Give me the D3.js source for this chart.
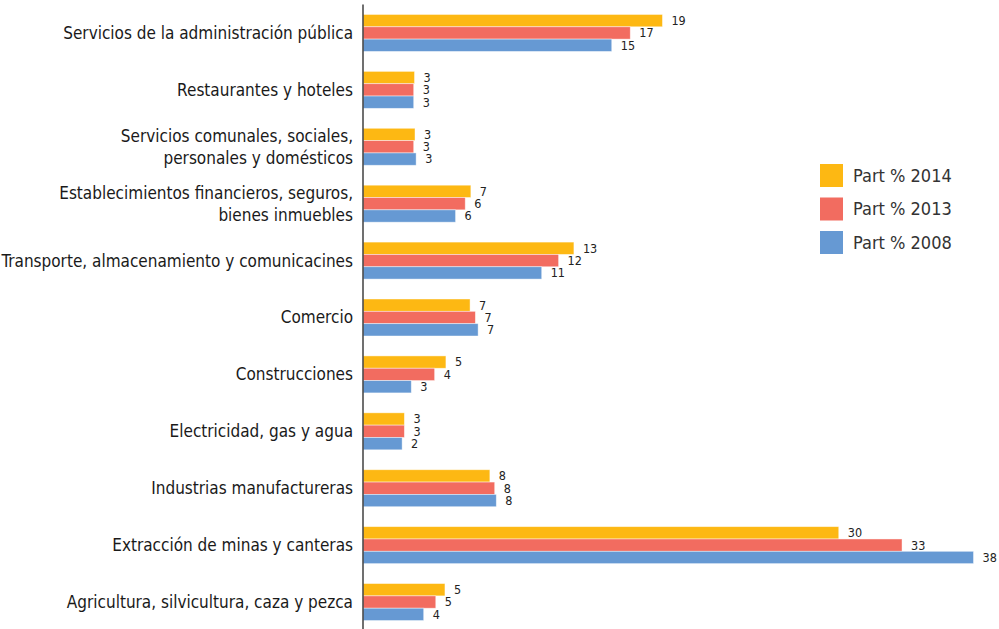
<!DOCTYPE html>
<html>
<head>
<meta charset="utf-8">
<title>Participación por sector</title>
<script src="https://d3js.org/d3.v7.min.js"></script>
<style>
  body { margin: 0; background: #fff; }
  .cat { font-family: "DejaVu Sans Condensed", "DejaVu Sans", sans-serif; font-stretch: condensed; font-size: 17px; fill: #1a1a1a; }
  .val { font-family: "DejaVu Sans Condensed", "DejaVu Sans", sans-serif; font-stretch: condensed; font-size: 12.5px; fill: #222; }
  .leg { font-family: "DejaVu Sans Condensed", "DejaVu Sans", sans-serif; font-stretch: condensed; font-size: 18px; fill: #333; }
</style>
</head>
<body>
<svg id="chart" width="999" height="629"></svg>
<script>
// categories, top to bottom
var categories = [
  "Servicios de la administración pública",
  "Restaurantes y hoteles",
  "Servicios comunales, sociales,\npersonales y domésticos",
  "Establecimientos financieros, seguros,\nbienes inmuebles",
  "Transporte, almacenamiento y comunicacines",
  "Comercio",
  "Construcciones",
  "Electricidad, gas y agua",
  "Industrias manufactureras",
  "Extracción de minas y canteras",
  "Agricultura, silvicultura, caza y pezca"
];
var seriesNames = ["Part % 2014", "Part % 2013", "Part % 2008"];
var part2014 = [18.6, 3.2, 3.23, 6.7, 13.1, 6.65, 5.15, 2.57, 7.88, 29.55, 5.09];
var part2013 = [16.6, 3.15, 3.15, 6.35, 12.15, 6.98, 4.45, 2.57, 8.18, 33.48, 4.52];
var part2008 = [15.45, 3.15, 3.3, 5.75, 11.1, 7.15, 3.0, 2.43, 8.28, 37.92, 3.77];
var colors = ["#FDB813", "#F26C60", "#6699D3"];

var series = [part2014, part2013, part2008];

var svg = d3.select("#chart");

var x = d3.scaleLinear().domain([0, 40]).range([363, 1007]);
var y = d3.scaleBand().domain(categories).range([4.5, 630.5]).paddingInner(0.35).paddingOuter(0.175);
var y1 = d3.scaleBand().domain(d3.range(series.length)).range([0, y.bandwidth()]);

var fmt = d3.format(".0f");

// bars
var groups = svg.append("g")
  .selectAll("g")
  .data(categories)
  .join("g")
  .attr("transform", function(d) { return "translate(0," + y(d) + ")"; });

groups.selectAll("rect")
  .data(function(d, i) { return series.map(function(s, j) { return { s: j, v: s[i] }; }); })
  .join("rect")
  .attr("x", x(0))
  .attr("y", function(d) { return y1(d.s); })
  .attr("width", function(d) { return x(d.v) - x(0); })
  .attr("height", y1.bandwidth())
  .attr("fill", function(d) { return colors[d.s]; })
  .attr("stroke", "rgba(255,255,255,0.55)")
  .attr("stroke-width", 0.8);

groups.selectAll("text")
  .data(function(d, i) { return series.map(function(s, j) { return { s: j, v: s[i] }; }); })
  .join("text")
  .attr("class", "val")
  .attr("x", function(d) { return x(d.v) + 9; })
  .attr("y", function(d) { return y1(d.s) + y1.bandwidth() / 2; })
  .attr("dy", "0.35em")
  .text(function(d) { return fmt(d.v); });

// vertical axis line
svg.append("line")
  .attr("x1", x(0)).attr("x2", x(0))
  .attr("y1", y.range()[0]).attr("y2", y.range()[1])
  .attr("stroke", "#404040")
  .attr("stroke-width", 1.5);

// category labels
var lab = svg.append("g")
  .selectAll("text")
  .data(categories)
  .join("text")
  .attr("class", "cat")
  .attr("text-anchor", "end")
  .attr("x", x(0) - 10)
  .attr("y", function(d) { return y(d) + y.bandwidth() / 2; });

lab.each(function(d) {
  var lines = d.split("\n");
  var t = d3.select(this);
  lines.forEach(function(line, k) {
    t.append("tspan")
      .attr("x", x(0) - 10)
      .attr("dy", k === 0 ? ((0.35 - (lines.length - 1) * 0.65) + "em") : "1.3em")
      .text(line);
  });
});

// legend
var leg = svg.append("g").attr("transform", "translate(820,164)");
var li = leg.selectAll("g")
  .data(seriesNames)
  .join("g")
  .attr("transform", function(d, i) { return "translate(0," + (i * 33.5) + ")"; });
li.append("rect")
  .attr("width", 23).attr("height", 23)
  .attr("fill", function(d, i) { return colors[i]; });
li.append("text")
  .attr("class", "leg")
  .attr("x", 33)
  .attr("y", 11.5)
  .attr("dy", "0.35em")
  .text(function(d) { return d; });
</script>
</body>
</html>
